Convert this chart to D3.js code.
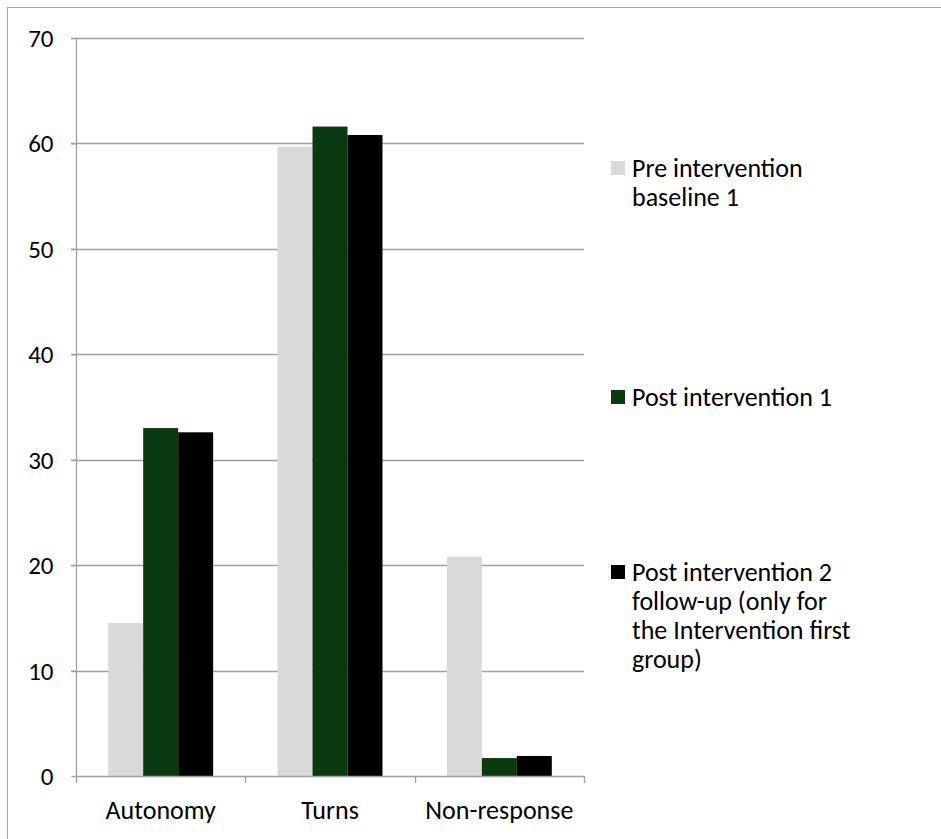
<!DOCTYPE html>
<html>
<head>
<meta charset="utf-8">
<script src="https://cdn.jsdelivr.net/npm/d3@7"></script>
<style>
  html, body { margin: 0; padding: 0; background: #fff; }
  svg { display: block; font-family: Carlito, Calibri, Lato, "Liberation Sans", sans-serif; }
</style>
</head>
<body>
<svg id="chart" width="941" height="839"></svg>
<script>
// Categories, series and values
const categories = ["Autonomy", "Turns", "Non-response"];
const seriesNames = [
  "Pre intervention baseline 1",
  "Post intervention 1",
  "Post intervention 2 follow-up (only for the Intervention first group)"
];
const preBaseline = [14.5, 59.7, 20.8];
const post1 = [33.0, 61.6, 1.7];
const post2 = [32.6, 60.8, 1.9];
const yTicks = [0, 10, 20, 30, 40, 50, 60, 70];

// Legend lines as wrapped in the legend box
const legendLines = [
  ["Pre intervention", "baseline 1"],
  ["Post intervention 1"],
  ["Post intervention 2", "follow-up (only for", "the Intervention first", "group)"]
];
const colors = ["#d9d9d9", "#0c3a0f", "#000000"];

const seriesValues = [preBaseline, post1, post2];

const svg = d3.select("#chart");
const W = 941, H = 839;
const plot = { left: 76, right: 584, top: 38, bottom: 776 };
const fontSize = 25;

// Outer frame (top and left edges visible)
svg.append("line").attr("x1", 7).attr("x2", W).attr("y1", 7.5).attr("y2", 7.5)
  .attr("stroke", "#a6a6a6").attr("stroke-width", 1);
svg.append("line").attr("x1", 7.5).attr("x2", 7.5).attr("y1", 7).attr("y2", H)
  .attr("stroke", "#a6a6a6").attr("stroke-width", 1);

const y = d3.scaleLinear().domain([0, 70]).range([plot.bottom, plot.top]);
const x0 = d3.scaleBand().domain(categories).range([plot.left, plot.right]).paddingInner(0).paddingOuter(0);
const x1 = d3.scaleBand().domain(d3.range(seriesNames.length)).range([0, x0.bandwidth()])
  .paddingInner(0).paddingOuter(0.92);

const gridColor = "#a0a0a0";

// Horizontal gridlines
svg.append("g").selectAll("line").data(yTicks.filter(t => t > 0)).join("line")
  .attr("x1", plot.left - 5).attr("x2", plot.right)
  .attr("y1", d => Math.round(y(d)) + 0.5).attr("y2", d => Math.round(y(d)) + 0.5)
  .attr("stroke", gridColor).attr("stroke-width", 1.3);

// Bars
const groups = svg.append("g").selectAll("g").data(categories).join("g")
  .attr("transform", d => `translate(${x0(d)},0)`);
groups.selectAll("rect")
  .data((c, ci) => seriesValues.map((vals, si) => ({ si, v: vals[ci] })))
  .join("rect")
  .attr("x", d => x1(d.si))
  .attr("width", x1.bandwidth())
  .attr("y", d => y(d.v))
  .attr("height", d => y(0) - y(d.v))
  .attr("fill", d => colors[d.si]);

// Y axis
const yAxis = d3.axisLeft(y).tickValues(yTicks).tickSize(5).tickPadding(18);
const gy = svg.append("g").attr("transform", `translate(${plot.left + 0.5},0)`).call(yAxis);
gy.attr("font-family", null).attr("font-size", null);
gy.select(".domain").attr("stroke", gridColor).attr("stroke-width", 1.3).attr("d", `M0,${plot.top}V${plot.bottom}`);
gy.selectAll(".tick line").attr("stroke", gridColor).attr("stroke-width", 1.3);
gy.selectAll(".tick text").attr("font-size", fontSize).attr("fill", "#000").attr("dy", "0.34em");

// X axis baseline with ticks at category boundaries
const xAxisG = svg.append("g");
xAxisG.append("line").attr("x1", plot.left).attr("x2", plot.right)
  .attr("y1", plot.bottom + 0.5).attr("y2", plot.bottom + 0.5)
  .attr("stroke", gridColor).attr("stroke-width", 1.3);
const boundaries = categories.map(c => x0(c)).concat([plot.right]);
xAxisG.selectAll("line.b").data(boundaries).join("line").attr("class", "b")
  .attr("x1", d => Math.round(d) + 0.5).attr("x2", d => Math.round(d) + 0.5)
  .attr("y1", plot.bottom).attr("y2", plot.bottom + 7)
  .attr("stroke", gridColor).attr("stroke-width", 1.3);
xAxisG.selectAll("text").data(categories).join("text")
  .attr("x", d => x0(d) + x0.bandwidth() / 2)
  .attr("y", 819)
  .attr("text-anchor", "middle")
  .attr("font-size", fontSize + 1)
  .attr("fill", "#000")
  .text(d => d);

// Legend
const legendTop = [168, 397, 572];
const legend = svg.append("g");
legendLines.forEach((lines, i) => {
  legend.append("rect")
    .attr("x", 611).attr("y", legendTop[i] - 7)
    .attr("width", 14).attr("height", 14)
    .attr("fill", colors[i]);
  const t = legend.append("text")
    .attr("x", 632).attr("y", legendTop[i] + 9)
    .attr("font-size", fontSize + 1).attr("fill", "#000");
  lines.forEach((ln, k) => {
    t.append("tspan").attr("x", 632).attr("dy", k === 0 ? 0 : 29).text(ln);
  });
});
</script>
</body>
</html>
